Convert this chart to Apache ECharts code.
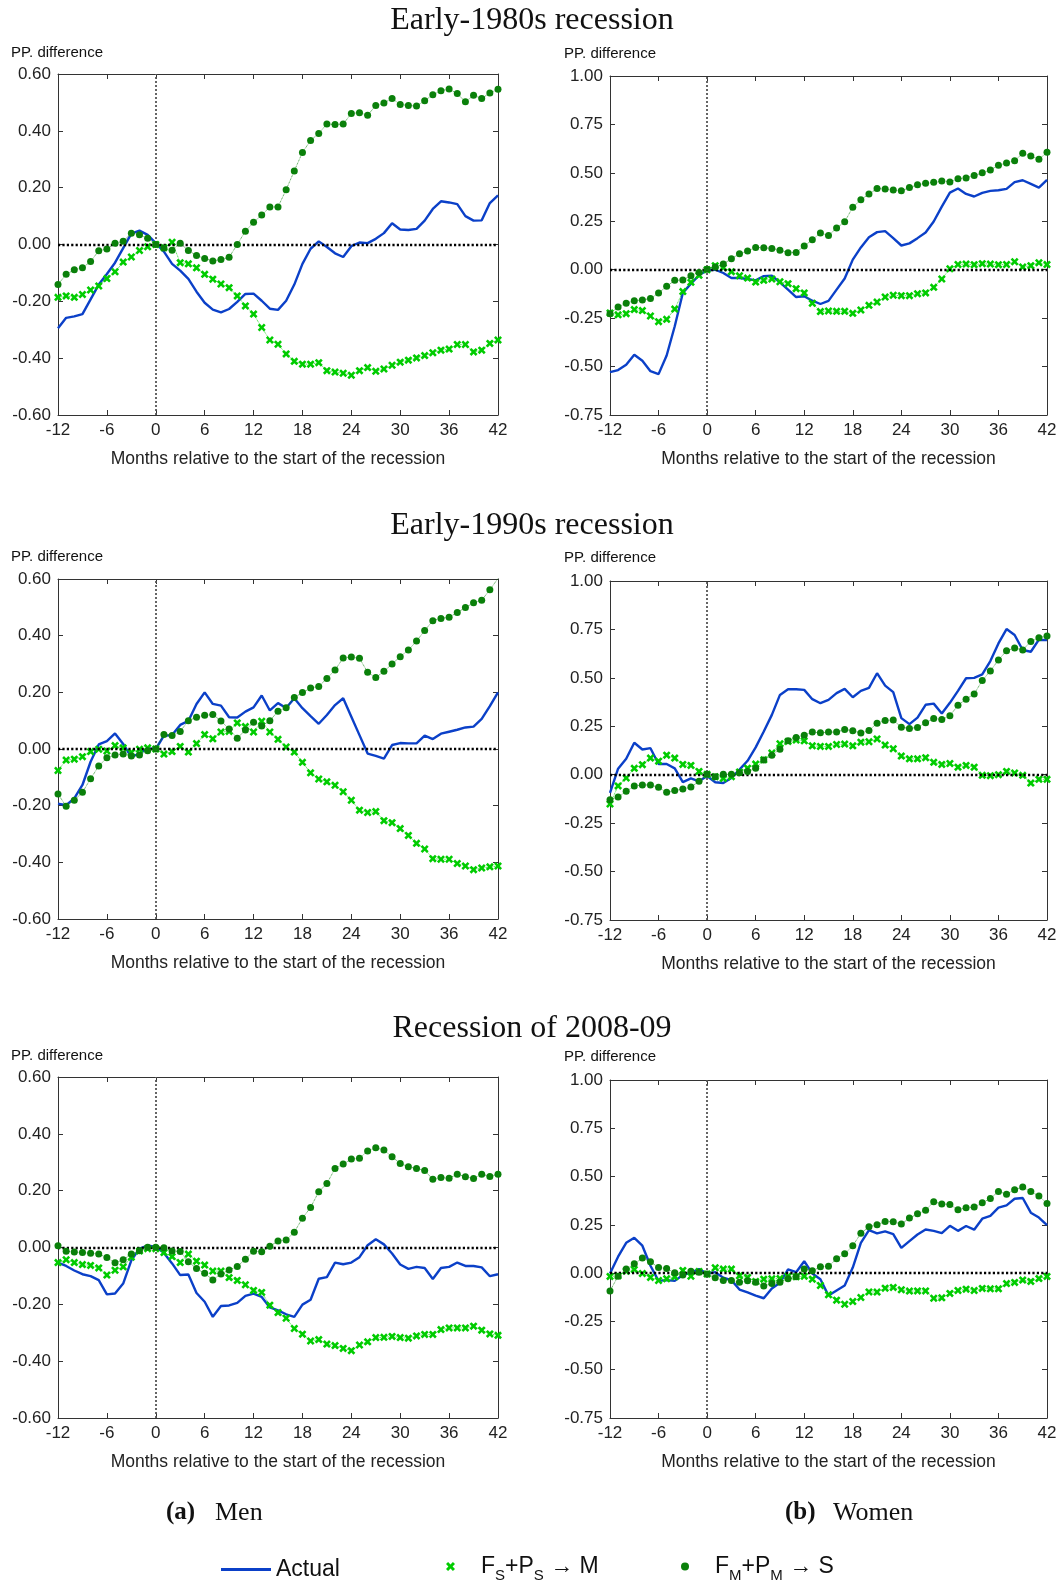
<!DOCTYPE html>
<html>
<head>
<meta charset="utf-8">
<script src="https://cdn.jsdelivr.net/npm/echarts@6.0.0/dist/echarts.min.js"></script>
<style>
  html, body { margin: 0; padding: 0; background: #fff; }
  #chart { width: 1062px; height: 1587px; }
</style>
</head>
<body>
<div id="chart"></div>
<script>
// months relative to start of recession
const months = [-12, -11, -10, -9, -8, -7, -6, -5, -4, -3, -2, -1,
  0, 1, 2, 3, 4, 5, 6, 7, 8, 9, 10, 11, 12, 13, 14, 15, 16, 17, 18, 19, 20,
  21, 22, 23, 24, 25, 26, 27, 28, 29, 30, 31, 32, 33, 34, 35, 36, 37, 38, 39, 40, 41, 42];

const sectionTitles = ['Early-1980s recession', 'Early-1990s recession', 'Recession of 2008-09'];

// Early-1980s, men
const actual80M = [-0.295, -0.258, -0.253, -0.245, -0.193, -0.141, -0.104, -0.064, -0.013, 0.038, 0.049, 0.034,
  0.005, -0.025, -0.068, -0.092, -0.121, -0.166, -0.205, -0.229, -0.239, -0.227,
  -0.202, -0.174, -0.173, -0.198, -0.226, -0.230, -0.198, -0.141, -0.068, -0.015,
  0.011, -0.009, -0.031, -0.044, -0.006, 0.007, 0.005, 0.020, 0.040, 0.075,
  0.053, 0.051, 0.055, 0.084, 0.125, 0.152, 0.148, 0.142, 0.100, 0.084,
  0.085, 0.146, 0.173];
const cross80M = [-0.186, -0.181, -0.186, -0.176, -0.160, -0.146, -0.120, -0.096, -0.062, -0.044, -0.021, -0.008,
  0, -0.011, 0.008, -0.064, -0.068, -0.082, -0.105, -0.122, -0.139, -0.152,
  -0.181, -0.216, -0.245, -0.292, -0.336, -0.351, -0.385, -0.411, -0.421, -0.421,
  -0.416, -0.444, -0.449, -0.453, -0.460, -0.444, -0.433, -0.446, -0.438, -0.425,
  -0.414, -0.407, -0.399, -0.391, -0.381, -0.372, -0.368, -0.352, -0.352, -0.378,
  -0.372, -0.348, -0.336];
const dot80M = [-0.141, -0.105, -0.089, -0.082, -0.060, -0.022, -0.016, 0.004, 0.011, 0.040, 0.034, 0.022,
  0, -0.012, -0.020, 0.004, -0.021, -0.039, -0.049, -0.058, -0.053, -0.045,
  0, 0.047, 0.078, 0.104, 0.132, 0.132, 0.193, 0.259, 0.324, 0.366,
  0.391, 0.424, 0.422, 0.424, 0.461, 0.464, 0.455, 0.489, 0.498, 0.514,
  0.493, 0.489, 0.487, 0.506, 0.527, 0.541, 0.547, 0.531, 0.502, 0.525,
  0.514, 0.533, 0.546];

// Early-1980s, women
const actual80W = [-0.529, -0.518, -0.491, -0.439, -0.470, -0.524, -0.539, -0.443, -0.292, -0.120, -0.072, -0.029,
  -0.003, 0, -0.017, -0.043, -0.043, -0.048, -0.055, -0.033, -0.031, -0.065,
  -0.103, -0.141, -0.137, -0.160, -0.177, -0.161, -0.103, -0.045, 0.052, 0.115,
  0.168, 0.194, 0.199, 0.163, 0.125, 0.136, 0.163, 0.192, 0.249, 0.326,
  0.398, 0.419, 0.391, 0.378, 0.397, 0.407, 0.410, 0.417, 0.452, 0.462,
  0.443, 0.424, 0.464];
const cross80W = [-0.223, -0.233, -0.227, -0.206, -0.211, -0.239, -0.268, -0.256, -0.203, -0.113, -0.065, -0.029,
  0, 0.021, 0.010, -0.010, -0.031, -0.043, -0.064, -0.055, -0.048, -0.062,
  -0.072, -0.098, -0.120, -0.173, -0.216, -0.213, -0.215, -0.215, -0.225, -0.208,
  -0.184, -0.167, -0.141, -0.132, -0.134, -0.134, -0.124, -0.120, -0.091, -0.048,
  0.005, 0.027, 0.029, 0.026, 0.031, 0.029, 0.026, 0.027, 0.041, 0.014,
  0.021, 0.036, 0.027];
const dot80W = [-0.227, -0.192, -0.173, -0.160, -0.156, -0.149, -0.120, -0.086, -0.055, -0.053, -0.031, -0.014,
  0.003, 0.014, 0.029, 0.057, 0.082, 0.096, 0.115, 0.113, 0.110, 0.101,
  0.088, 0.089, 0.122, 0.155, 0.189, 0.177, 0.215, 0.247, 0.323, 0.361,
  0.391, 0.419, 0.417, 0.412, 0.407, 0.424, 0.438, 0.446, 0.451, 0.458,
  0.453, 0.469, 0.474, 0.486, 0.500, 0.515, 0.539, 0.551, 0.563, 0.601,
  0.587, 0.570, 0.606];

// Early-1990s, men
const actual90M = [-0.193, -0.198, -0.174, -0.127, -0.045, 0.016, 0.028, 0.055, 0.018, -0.029, -0.015, 0.002,
  0, 0.047, 0.049, 0.085, 0.099, 0.159, 0.200, 0.159, 0.153, 0.112,
  0.111, 0.132, 0.147, 0.189, 0.136, 0.162, 0.145, 0.179, 0.144, 0.116,
  0.089, 0.120, 0.155, 0.179, 0.114, 0.049, -0.016, -0.024, -0.034, 0.014,
  0.021, 0.020, 0.020, 0.047, 0.035, 0.054, 0.061, 0.068, 0.076, 0.079,
  0.106, 0.151, 0.200];
const cross90M = [-0.076, -0.039, -0.036, -0.027, -0.009, -0.001, -0.007, 0.012, 0.004, -0.012, -0.001, 0.004,
  0, -0.018, -0.009, 0.009, -0.011, 0.019, 0.051, 0.036, 0.060, 0.062,
  0.092, 0.079, 0.060, 0.098, 0.060, 0.034, 0.007, -0.011, -0.047, -0.084,
  -0.106, -0.116, -0.128, -0.151, -0.181, -0.216, -0.224, -0.221, -0.253, -0.260,
  -0.281, -0.305, -0.333, -0.353, -0.387, -0.389, -0.389, -0.404, -0.413, -0.426,
  -0.420, -0.416, -0.413];
const dot90M = [-0.159, -0.202, -0.181, -0.153, -0.105, -0.060, -0.031, -0.021, -0.018, -0.025, -0.021, -0.006,
  0, 0.051, 0.048, 0.062, 0.100, 0.112, 0.119, 0.122, 0.099, 0.071,
  0.038, 0.067, 0.094, 0.081, 0.100, 0.133, 0.146, 0.182, 0.199, 0.215,
  0.221, 0.249, 0.279, 0.321, 0.325, 0.320, 0.271, 0.252, 0.274, 0.300,
  0.326, 0.349, 0.381, 0.418, 0.453, 0.461, 0.465, 0.482, 0.499, 0.516,
  0.525, 0.562, 0.602];

// Early-1990s, women
const actual90W = [-0.094, 0.031, 0.082, 0.165, 0.130, 0.137, 0.055, 0.055, 0.033, -0.038, -0.019, -0.034,
  -0.007, -0.039, -0.043, -0.017, 0.026, 0.072, 0.141, 0.223, 0.309, 0.412,
  0.441, 0.441, 0.438, 0.390, 0.369, 0.386, 0.421, 0.443, 0.400, 0.433,
  0.448, 0.524, 0.460, 0.426, 0.292, 0.261, 0.295, 0.361, 0.367, 0.316,
  0.371, 0.433, 0.498, 0.500, 0.518, 0.587, 0.678, 0.752, 0.721, 0.644,
  0.635, 0.697, 0.695];
const cross90W = [-0.151, -0.058, -0.017, 0.033, 0.052, 0.086, 0.070, 0.101, 0.086, 0.053, 0.048, 0.017,
  0.002, -0.010, -0.019, -0.010, 0.014, 0.034, 0.055, 0.077, 0.112, 0.160,
  0.172, 0.179, 0.175, 0.149, 0.146, 0.146, 0.156, 0.158, 0.149, 0.168,
  0.170, 0.185, 0.153, 0.134, 0.096, 0.082, 0.082, 0.088, 0.064, 0.053,
  0.058, 0.039, 0.048, 0.039, -0.003, -0.005, 0, 0.017, 0.009, -0.003,
  -0.043, -0.024, -0.024];
const dot90W = [-0.129, -0.115, -0.086, -0.058, -0.053, -0.053, -0.065, -0.091, -0.081, -0.074, -0.064, -0.034,
  0.002, -0.010, 0.002, 0.003, 0.010, 0.017, 0.033, 0.076, 0.101, 0.132,
  0.175, 0.192, 0.204, 0.220, 0.216, 0.220, 0.220, 0.233, 0.227, 0.215,
  0.228, 0.266, 0.280, 0.282, 0.245, 0.239, 0.244, 0.268, 0.290, 0.285,
  0.304, 0.359, 0.390, 0.417, 0.486, 0.536, 0.592, 0.640, 0.654, 0.644,
  0.688, 0.707, 0.716];

// 2008-09, men
const actual08M = [-0.053, -0.065, -0.081, -0.094, -0.101, -0.115, -0.165, -0.162, -0.127, -0.045, -0.004, 0.007,
  0.002, -0.019, -0.056, -0.097, -0.095, -0.160, -0.191, -0.244, -0.206, -0.204,
  -0.195, -0.170, -0.162, -0.174, -0.211, -0.221, -0.235, -0.244, -0.201, -0.184,
  -0.110, -0.104, -0.053, -0.059, -0.053, -0.034, 0.008, 0.029, 0.011, -0.021,
  -0.060, -0.075, -0.068, -0.072, -0.111, -0.072, -0.068, -0.053, -0.065, -0.065,
  -0.070, -0.101, -0.094];
const cross08M = [-0.053, -0.043, -0.053, -0.060, -0.063, -0.072, -0.097, -0.080, -0.068, -0.034, -0.012, -0.004,
  -0.004, -0.018, -0.032, -0.053, -0.023, -0.048, -0.062, -0.083, -0.083, -0.106,
  -0.116, -0.131, -0.151, -0.158, -0.203, -0.229, -0.249, -0.285, -0.305, -0.329,
  -0.324, -0.340, -0.345, -0.355, -0.363, -0.343, -0.332, -0.317, -0.316, -0.313,
  -0.317, -0.319, -0.311, -0.306, -0.306, -0.289, -0.283, -0.283, -0.283, -0.277,
  -0.291, -0.304, -0.309];
const dot08M = [0.006, -0.013, -0.016, -0.018, -0.020, -0.023, -0.035, -0.054, -0.043, -0.023, -0.011, 0.001,
  0.001, -0.001, -0.012, -0.014, -0.050, -0.074, -0.091, -0.114, -0.093, -0.079,
  -0.067, -0.041, -0.013, -0.015, 0.004, 0.023, 0.026, 0.054, 0.103, 0.141,
  0.196, 0.225, 0.278, 0.294, 0.311, 0.314, 0.340, 0.351, 0.343, 0.319,
  0.296, 0.284, 0.278, 0.271, 0.240, 0.246, 0.244, 0.258, 0.249, 0.243,
  0.258, 0.250, 0.258];

// 2008-09, women
const actual08W = [-0.002, 0.085, 0.157, 0.183, 0.142, 0.038, -0.040, -0.036, -0.040, -0.010, 0.003, 0.021,
  -0.002, 0.005, -0.024, -0.036, -0.085, -0.100, -0.116, -0.130, -0.079, -0.050,
  0.019, 0.005, 0.062, -0.002, -0.032, -0.116, -0.090, -0.064, 0.029, 0.157,
  0.223, 0.206, 0.216, 0.202, 0.131, 0.166, 0.200, 0.226, 0.219, 0.207,
  0.245, 0.219, 0.244, 0.225, 0.282, 0.297, 0.339, 0.351, 0.385, 0.389,
  0.313, 0.288, 0.249];
const cross08W = [-0.017, -0.014, 0.010, 0.019, -0.002, -0.022, -0.038, -0.029, -0.019, 0.014, -0.016, 0.009,
  -0.005, 0.028, 0.021, 0.021, -0.014, -0.022, -0.043, -0.031, -0.029, -0.028,
  -0.016, -0.019, -0.016, -0.031, -0.064, -0.112, -0.140, -0.161, -0.147, -0.126,
  -0.097, -0.098, -0.078, -0.074, -0.086, -0.093, -0.092, -0.092, -0.130, -0.128,
  -0.105, -0.090, -0.083, -0.090, -0.079, -0.081, -0.081, -0.054, -0.048, -0.036,
  -0.043, -0.028, -0.017];
const dot08W = [-0.092, -0.016, 0.021, 0.048, 0.078, 0.059, 0.029, 0.024, 0.002, -0.009, 0.010, 0.005,
  -0.005, -0.024, -0.038, -0.038, -0.047, -0.040, -0.047, -0.067, -0.054, -0.047,
  -0.029, -0.019, 0.022, 0.012, 0.033, 0.036, 0.074, 0.100, 0.142, 0.206,
  0.240, 0.250, 0.268, 0.266, 0.254, 0.285, 0.307, 0.325, 0.370, 0.358,
  0.356, 0.328, 0.339, 0.342, 0.364, 0.387, 0.423, 0.409, 0.432, 0.446,
  0.423, 0.399, 0.361];

const BLUE = '#0b40c8';
const LIGHT = '#00cc00';
const DARK = '#0a800a';
const AXIS = '#333';
const SANS = '"Liberation Sans", Arial, sans-serif';
const SERIF = '"Liberation Serif", "DejaVu Serif", serif';
const CROSS = 'path://M0,2.3 L2.3,0 L5,2.7 L7.7,0 L10,2.3 L7.3,5 L10,7.7 L7.7,10 L5,7.3 L2.3,10 L0,7.7 L2.7,5 Z';
const NAME_A = 'Actual';
const NAME_X = 'FS+PS → M';
const NAME_D = 'FM+PM → S';

const panels = [
  { left: 58, top: 74, width: 440, height: 341, men: true, data: [actual80M, cross80M, dot80M] },
  { left: 610, top: 76, width: 437, height: 339, men: false, data: [actual80W, cross80W, dot80W] },
  { left: 58, top: 579, width: 440, height: 340, men: true, data: [actual90M, cross90M, dot90M] },
  { left: 610, top: 581, width: 437, height: 339, men: false, data: [actual90W, cross90W, dot90W] },
  { left: 58, top: 1077, width: 440, height: 341, men: true, data: [actual08M, cross08M, dot08M] },
  { left: 610, top: 1080, width: 437, height: 338, men: false, data: [actual08W, cross08W, dot08W] }
];

const pair = arr => months.map((m, i) => [m, arr[i]]);
const fmt = v => (Math.abs(v) < 1e-9 ? '0.00' : v.toFixed(2));

const grids = [], xAxes = [], yAxes = [], series = [];

panels.forEach((p, i) => {
  grids.push({ left: p.left, top: p.top, width: p.width, height: p.height });
  const yr = p.men ? { min: -0.6, max: 0.6, interval: 0.2 } : { min: -0.75, max: 1.0, interval: 0.25 };
  const common = {
    gridIndex: i, type: 'value', min: -12, max: 42, interval: 6,
    axisLine: { show: true, onZero: false, lineStyle: { color: AXIS, width: 1 } },
    axisTick: { show: true, inside: true, length: 5, lineStyle: { color: AXIS } },
    splitLine: { show: false }
  };
  xAxes.push(Object.assign({}, common, {
    position: 'bottom',
    axisLabel: { color: '#222', fontSize: 17, fontFamily: SANS, margin: 7 },
    name: 'Months relative to the start of the recession',
    nameLocation: 'middle', nameGap: 35,
    nameTextStyle: { color: '#222', fontSize: 17.5, fontFamily: SANS }
  }));
  xAxes.push(Object.assign({}, common, { position: 'top', axisLabel: { show: false } }));
  const ycommon = {
    gridIndex: i, type: 'value', min: yr.min, max: yr.max, interval: yr.interval,
    axisLine: { show: true, onZero: false, lineStyle: { color: AXIS, width: 1 } },
    axisTick: { show: true, inside: true, length: 5, lineStyle: { color: AXIS } },
    splitLine: { show: false }
  };
  yAxes.push(Object.assign({}, ycommon, {
    position: 'left',
    axisLabel: { color: '#222', fontSize: 17, fontFamily: SANS, margin: 7, formatter: fmt }
  }));
  yAxes.push(Object.assign({}, ycommon, { position: 'right', axisLabel: { show: false } }));

  const xi = 2 * i, yi = 2 * i;
  series.push({
    name: NAME_A, type: 'line', xAxisIndex: xi, yAxisIndex: yi,
    data: pair(p.data[0]), symbol: 'none', z: 3,
    lineStyle: { color: BLUE, width: 2.4 }, itemStyle: { color: BLUE },
    markLine: {
      silent: true, symbol: ['none', 'none'], label: { show: false },
      data: [
        { yAxis: 0, lineStyle: { color: '#000', type: [2.2, 2.2], width: 2.4 } },
        { xAxis: 0, lineStyle: { color: '#555', type: [2, 2], width: 1.8 } }
      ]
    }
  });
  series.push({
    name: NAME_X, type: 'line', xAxisIndex: xi, yAxisIndex: yi,
    data: pair(p.data[1]), symbol: CROSS, symbolSize: 8, showSymbol: true, z: 4,
    itemStyle: { color: LIGHT },
    lineStyle: { color: LIGHT, width: 0.8, type: 'dotted' }
  });
  series.push({
    name: NAME_D, type: 'line', xAxisIndex: xi, yAxisIndex: yi,
    data: pair(p.data[2]), symbol: 'circle', symbolSize: 7, showSymbol: true, z: 5,
    itemStyle: { color: DARK },
    lineStyle: { color: DARK, width: 0.8, type: 'dotted' }
  });
});

const legendRich = {
  gap: { width: 21 },
  m: { fontSize: 23, fontFamily: SANS, color: '#111', lineHeight: 23 },
  s: { fontSize: 15, fontFamily: SANS, color: '#111', lineHeight: 34, verticalAlign: 'bottom' }
};
const legendFmt = name => {
  if (name === NAME_X) return '{gap|}{m|F}{s|S}{m|+P}{s|S}{m| → M}';
  if (name === NAME_D) return '{gap|}{m|F}{s|M}{m|+P}{s|M}{m| → S}';
  return name;
};

const textEl = (text, x, y, font, align) => ({
  type: 'text', x: x, y: y,
  style: { text: text, font: font, fill: '#111', align: align || 'center', verticalAlign: 'middle' }
});

const graphics = [
  textEl(sectionTitles[0], 532, 21, '32px ' + SERIF),
  textEl(sectionTitles[1], 532, 526, '32px ' + SERIF),
  textEl(sectionTitles[2], 532, 1029, '32px ' + SERIF),
  textEl('PP. difference', 11, 53, '15px ' + SANS, 'left'),
  textEl('PP. difference', 564, 54, '15px ' + SANS, 'left'),
  textEl('PP. difference', 11, 557, '15px ' + SANS, 'left'),
  textEl('PP. difference', 564, 558, '15px ' + SANS, 'left'),
  textEl('PP. difference', 11, 1056, '15px ' + SANS, 'left'),
  textEl('PP. difference', 564, 1057, '15px ' + SANS, 'left'),
  textEl('(a)', 166, 1513, 'bold 25px ' + SERIF, 'left'),
  textEl('Men', 215, 1513, '26px ' + SERIF, 'left'),
  textEl('(b)', 785, 1513, 'bold 25px ' + SERIF, 'left'),
  textEl('Women', 833, 1513, '26px ' + SERIF, 'left')
];

const chart = echarts.init(document.getElementById('chart'), null, { renderer: 'canvas' });
chart.setOption({
  backgroundColor: '#fff',
  animation: false,
  textStyle: { fontFamily: SANS },
  grid: grids,
  xAxis: xAxes,
  yAxis: yAxes,
  series: series,
  graphic: graphics,
  legend: [
    {
      data: [{ name: NAME_A, icon: 'rect' }], left: 221, top: 1558, padding: 0,
      itemWidth: 50, itemHeight: 3, selectedMode: false,
      textStyle: { fontSize: 23, color: '#111', fontFamily: SANS }
    },
    {
      data: [{ name: NAME_X, icon: CROSS }], left: 446, top: 1555, padding: 0,
      itemWidth: 9, itemHeight: 9, selectedMode: false,
      formatter: legendFmt, textStyle: { rich: legendRich }
    },
    {
      data: [{ name: NAME_D, icon: 'circle' }], left: 681, top: 1555, padding: 0,
      itemWidth: 8, itemHeight: 8, selectedMode: false,
      formatter: legendFmt, textStyle: { rich: legendRich }
    }
  ]
});
</script>
</body>
</html>
